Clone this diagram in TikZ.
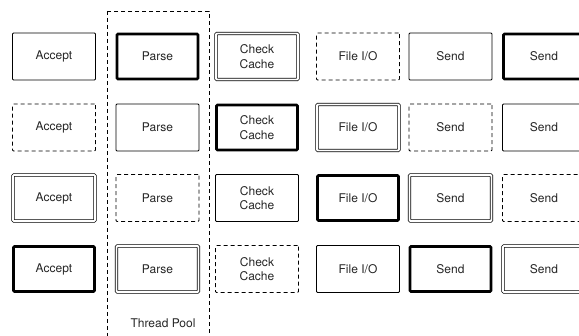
\documentclass[tikz,border=0pt]{standalone}
\usepackage{fontspec}
\setmainfont{TeX Gyre Heros}
\begin{document}
\begin{tikzpicture}[x=1pt,y=-1pt,
  box/.style={draw=black, rectangle, rounded corners=1pt, minimum width=83pt, minimum height=47pt,
    inner sep=0pt, align=center, line width=0.8pt, text=black!85,
    font=\fontsize{12}{14.5}\selectfont},
  solidbox/.style={box},
  thickbox/.style={box, line width=2.6pt, minimum width=81pt, minimum height=45pt},
  dashbox/.style={box, dash pattern=on 4pt off 3pt},
  dblbox/.style={box, double, double distance=1.8pt, line width=0.7pt, minimum width=82pt, minimum height=46pt},
  pool/.style={draw=black, line width=0.8pt, dash pattern=on 4pt off 3pt}
]
\useasboundingbox (0,0) rectangle (579,336);
\fill[white] (0,0) rectangle (579,336);
% thread pool
\draw[pool] (107,11) rectangle (209,345);
\node[font=\fontsize{12}{14}\selectfont, text=black!85] (tp) at (163,323) {Thread Pool};
% row 1
\node[solidbox] (a1) at (54,56.5) {Accept};
\node[thickbox] (p1) at (157.5,56.5) {Parse};
\node[dblbox]   (c1) at (257,56.5) {Check\\Cache};
\node[dashbox]  (f1) at (358,56.5) {File I/O};
\node[solidbox] (s1) at (450.5,56.5) {Send};
\node[thickbox] (t1) at (544,56.5) {Send};
% row 2
\node[dashbox]  (a2) at (54,127.5) {Accept};
\node[solidbox] (p2) at (157.5,127.5) {Parse};
\node[thickbox] (c2) at (257,127.5) {Check\\Cache};
\node[dblbox]   (f2) at (358,127.5) {File I/O};
\node[dashbox]  (s2) at (450.5,127.5) {Send};
\node[solidbox] (t2) at (544,127.5) {Send};
% row 3
\node[dblbox]   (a3) at (54,198) {Accept};
\node[dashbox]  (p3) at (157.5,198) {Parse};
\node[solidbox] (c3) at (257,198) {Check\\Cache};
\node[thickbox] (f3) at (358,198) {File I/O};
\node[dblbox]   (s3) at (450.5,198) {Send};
\node[dashbox]  (t3) at (544,198) {Send};
% row 4
\node[thickbox] (a4) at (54,269) {Accept};
\node[dblbox]   (p4) at (157.5,269) {Parse};
\node[dashbox]  (c4) at (257,269) {Check\\Cache};
\node[solidbox] (f4) at (358,269) {File I/O};
\node[thickbox] (s4) at (450.5,269) {Send};
\node[dblbox]   (t4) at (544,269) {Send};
\end{tikzpicture}
\end{document}
